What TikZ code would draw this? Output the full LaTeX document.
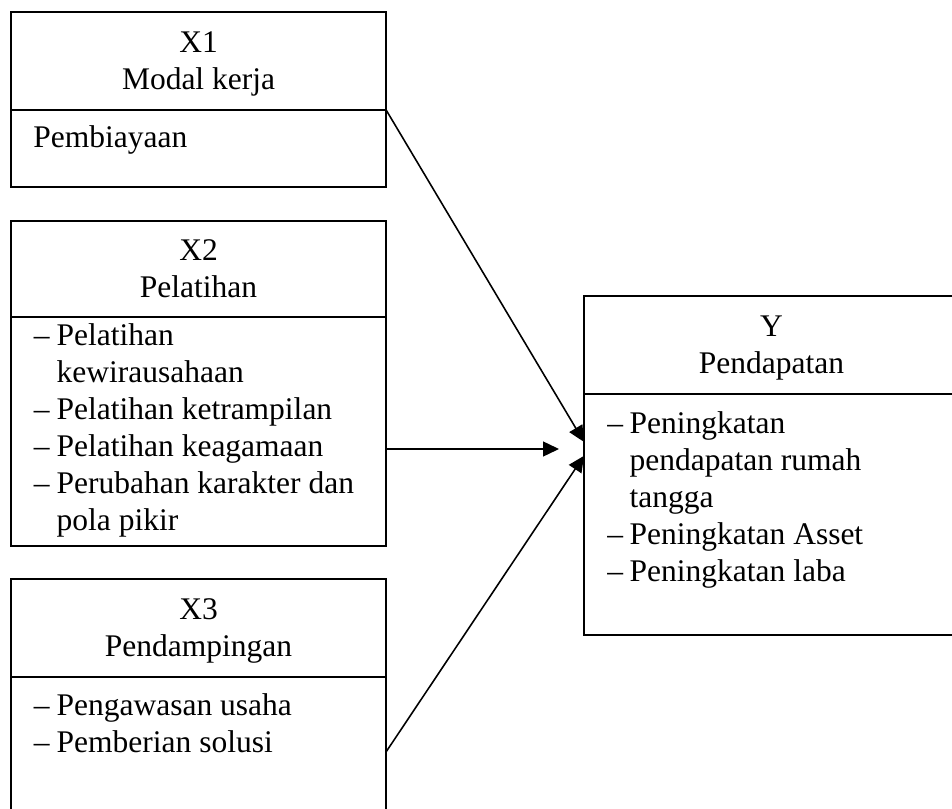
\documentclass[tikz,border=0pt]{standalone}
\usepackage{fontspec}
\setmainfont{Liberation Serif}
\usepackage{tikz}
\usetikzlibrary{arrows.meta, positioning}
\tikzset{
		head box/.style={draw, line width=0.8pt, minimum width=142.9pt, minimum height=37.3pt,
			align=center, text depth=0pt, inner sep=0pt, outer sep=0pt},
		body box/.style={draw, line width=0.8pt, minimum width=142.9pt, inner sep=0pt, outer sep=0pt},
		item list/.style={anchor=base west, inner sep=0pt},
		link/.style={->, line width=0.6pt}
	}

\begin{document}
\begin{tikzpicture}[>={Triangle[length=6.1pt,width=5.7pt]}, x=0.381pt, y=-0.381pt,
		font=\fontsize{12}{14.1}\selectfont]
				\useasboundingbox (0,0) rectangle (952,809);
				\clip (0,0) rectangle (952,809);

				% variabel bebas
				\node[head box, anchor=north west] (x1h) at (11,12) {X1\\Modal kerja};
				\node[body box, minimum height=29.3pt, below=0pt of x1h] (x1b) {};
				\node[head box, minimum height=36.6pt, below=13pt of x1b] (x2h) {X2\\Pelatihan};
				\node[body box, minimum height=87.2pt, below=0pt of x2h] (x2b) {};
				\node[head box, below=12.6pt of x2b] (x3h) {X3\\Pendampingan};
				\node[body box, minimum height=58.3pt, below=0pt of x3h] (x3b) {};

				% variabel terikat
				\node[head box, anchor=north west] (yh) at (584,296) {Y\\Pendapatan};
				\node[body box, minimum height=91.8pt, below=0pt of yh] (yb) {};

				\node[item list] (x1t) at ([xshift=8.3pt, yshift=-14.5pt]x1b.north west) {Pembiayaan};
				\node[item list] (x2t) at ([xshift=8.5pt, yshift=-11pt]x2b.north west) {%
					\begin{tabular}[t]{@{}p{8.7pt}@{}l@{}}
						– & Pelatihan\\
						  & kewirausahaan\\
						– & Pelatihan ketrampilan\\
						– & Pelatihan keagamaan\\
						– & Perubahan karakter dan\\
						  & pola pikir
					\end{tabular}};
				\node[item list] (x3t) at ([xshift=8.5pt, yshift=-14.9pt]x3b.north west) {%
					\begin{tabular}[t]{@{}p{8.7pt}@{}l@{}}
						– & Pengawasan usaha\\
						– & Pemberian solusi
					\end{tabular}};
				\node[item list] (yt) at ([xshift=8.7pt, yshift=-15.2pt]yb.north west) {%
					\begin{tabular}[t]{@{}p{8.5pt}@{}l@{}}
						– & Peningkatan\\
						  & pendapatan rumah\\
						  & tangga\\
						– & Peningkatan Asset\\
						– & Peningkatan laba
					\end{tabular}};

				\coordinate (x2end) at (559,449);

				\draw[link] (x1b.north east) -- ([yshift=-18.3pt]yb.north west);
				\draw[link] (x2b.east |- x2end) -- (x2end);
				\draw[link] ([yshift=-28.6pt]x3b.north east) -- ([yshift=-23.6pt]yb.north west);
			\end{tikzpicture}
\end{document}
